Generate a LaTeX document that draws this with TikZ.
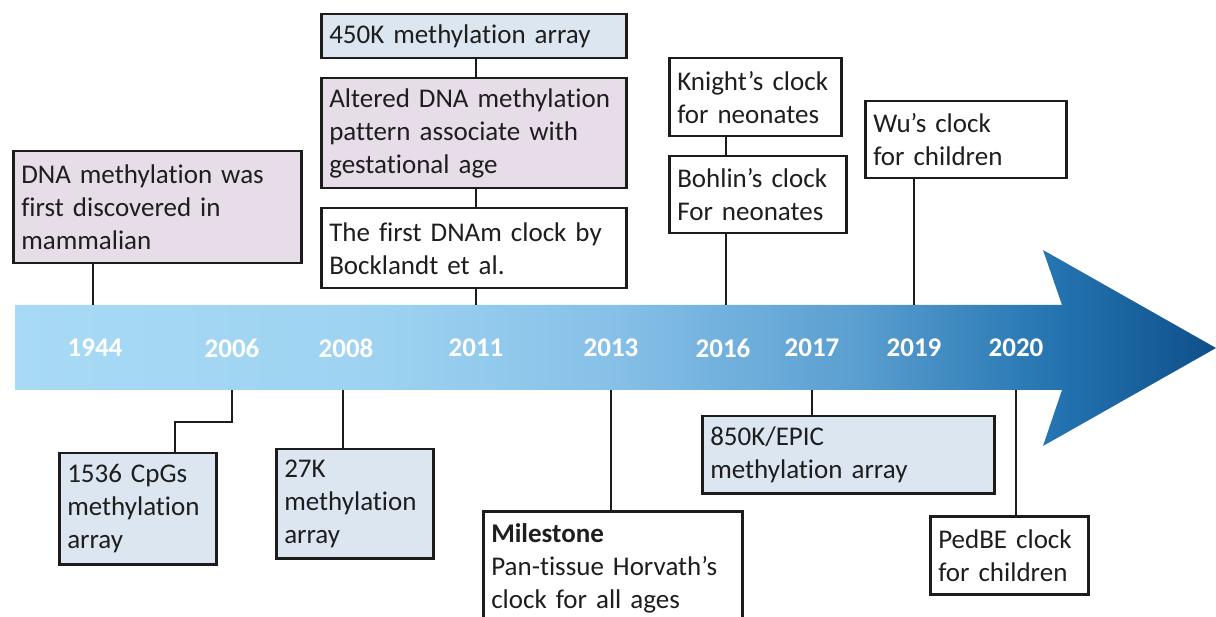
\documentclass[tikz,border=0pt]{standalone}
\usepackage{fontspec}
\setmainfont{Carlito}[Ligatures=NoCommon]
\definecolor{lav}{HTML}{E7DDE9}
\definecolor{lblue}{HTML}{DCE6F1}
\definecolor{bord}{HTML}{1C1C1C}
\definecolor{txt}{HTML}{1E1E1E}
\definecolor{aa}{HTML}{A8DAF5}
\definecolor{ab}{HTML}{9DD3F1}
\definecolor{ac}{HTML}{86C0E8}
\definecolor{ad}{HTML}{5A9FD0}
\definecolor{ae}{HTML}{2373B0}
\definecolor{af}{HTML}{0E4F8A}
\pgfdeclarehorizontalshading{tline}{100bp}{color(0bp)=(aa); color(25bp)=(aa); color(40bp)=(ab); color(50bp)=(ac); color(60bp)=(ad); color(68.5bp)=(ae); color(75bp)=(af); color(100bp)=(af)}
\begin{document}
\begin{tikzpicture}[x=1pt,y=-1pt,
  evbox/.style={draw=bord, line width=2.5pt, anchor=north west, inner xsep=8pt, inner ysep=0pt,
    align=left, font=\fontsize{27}{33}\selectfont, text=txt},
  conn/.style={draw=bord, line width=2.5pt},
  yearlbl/.style={text=white, font=\fontsize{27}{33}\selectfont\bfseries}]
\fill[white] (0,0) rectangle (1216,617);
\useasboundingbox (0,0) rectangle (1216,617);

% timeline arrow
\shade[shading=tline] (15,305) -- (1062,305) -- (1043,250) -- (1216,348) -- (1043,446) -- (1062,390) -- (15,390) -- cycle;

% years
\node[yearlbl] (y1944) at (95,348) {1944};
\node[yearlbl] (y2006) at (232,348) {2006};
\node[yearlbl] (y2008) at (346,348) {2008};
\node[yearlbl] (y2011) at (476,348) {2011};
\node[yearlbl] (y2013) at (611,348) {2013};
\node[yearlbl] (y2016) at (723,348) {2016};
\node[yearlbl] (y2017) at (812,348) {2017};
\node[yearlbl] (y2019) at (914,348) {2019};
\node[yearlbl] (y2020) at (1016,348) {2020};

% connector end points on the arrow edges
\coordinate (t1944) at (93,305);
\coordinate (t2011) at (476,305);
\coordinate (t2016) at (726,305);
\coordinate (t2019) at (914,305);
\coordinate (b2006) at (232,390);
\coordinate (k2006) at (232,422);
\coordinate (j2006) at (175,422);
\coordinate (b2008) at (343,390);
\coordinate (b2013) at (611,390);
\coordinate (b2017) at (812,390);
\coordinate (b2020) at (1016,390);

% top boxes
\node[evbox, fill=lav, minimum width=288, minimum height=112, text width=272] (n1944) at (12,150)
  {DNA methylation was\\first discovered in\\mammalian};
\node[evbox, fill=lblue, minimum width=305, minimum height=44, text width=289] (n450) at (320,13)
  {450K methylation array};
\node[evbox, fill=lav, minimum width=305, minimum height=110, text width=289] (nalt) at (320,77)
  {Altered DNA methylation\\pattern associate with\\gestational age};
\node[evbox, fill=white, minimum width=305, minimum height=80, text width=289] (nfirst) at (320,207)
  {The first DNAm clock by\\Bocklandt et al.};
\node[evbox, fill=white, minimum width=172, minimum height=78, text width=156] (nknight) at (668,57)
  {Knight’s clock\\for neonates};
\node[evbox, fill=white, minimum width=177, minimum height=77, text width=161] (nbohlin) at (668,155)
  {Bohlin’s clock\\For neonates};
\node[evbox, fill=white, minimum width=201, minimum height=77, text width=185] (nwu) at (864,100)
  {Wu’s clock\\for children};

% bottom boxes
\node[evbox, fill=lblue, minimum width=157, minimum height=111, text width=141] (n1536) at (58,452)
  {1536 CpGs\\methylation\\array};
\node[evbox, fill=lblue, minimum width=157, minimum height=109, text width=141] (n27k) at (275,448)
  {27K\\methylation\\array};
\node[evbox, fill=white, minimum width=259, minimum height=115, text width=243] (nmile) at (482,510)
  {\textbf{Milestone}\\Pan-tissue Horvath’s\\clock for all ages};
\node[evbox, fill=lblue, minimum width=292, minimum height=77, text width=276] (n850) at (701,415)
  {850K/EPIC\\methylation array};
\node[evbox, fill=white, minimum width=158, minimum height=78, text width=142] (nped) at (929,515)
  {PedBE clock\\for children};

% connectors
\draw[conn] (n1944.south -| t1944) -- (t1944);
\draw[conn] (n450.south -| t2011) -- (nalt.north -| t2011);
\draw[conn] (nalt.south -| t2011) -- (nfirst.north -| t2011);
\draw[conn] (nfirst.south -| t2011) -- (t2011);
\draw[conn] (nknight.south -| t2016) -- (nbohlin.north -| t2016);
\draw[conn] (nbohlin.south -| t2016) -- (t2016);
\draw[conn] (nwu.south -| t2019) -- (t2019);
\draw[conn] (b2006) -- (k2006) -- (j2006) -- (n1536.north -| j2006);
\draw[conn] (b2008) -- (n27k.north -| b2008);
\draw[conn] (b2013) -- (nmile.north -| b2013);
\draw[conn] (b2017) -- (n850.north -| b2017);
\draw[conn] (b2020) -- (nped.north -| b2020);
\end{tikzpicture}
\end{document}
